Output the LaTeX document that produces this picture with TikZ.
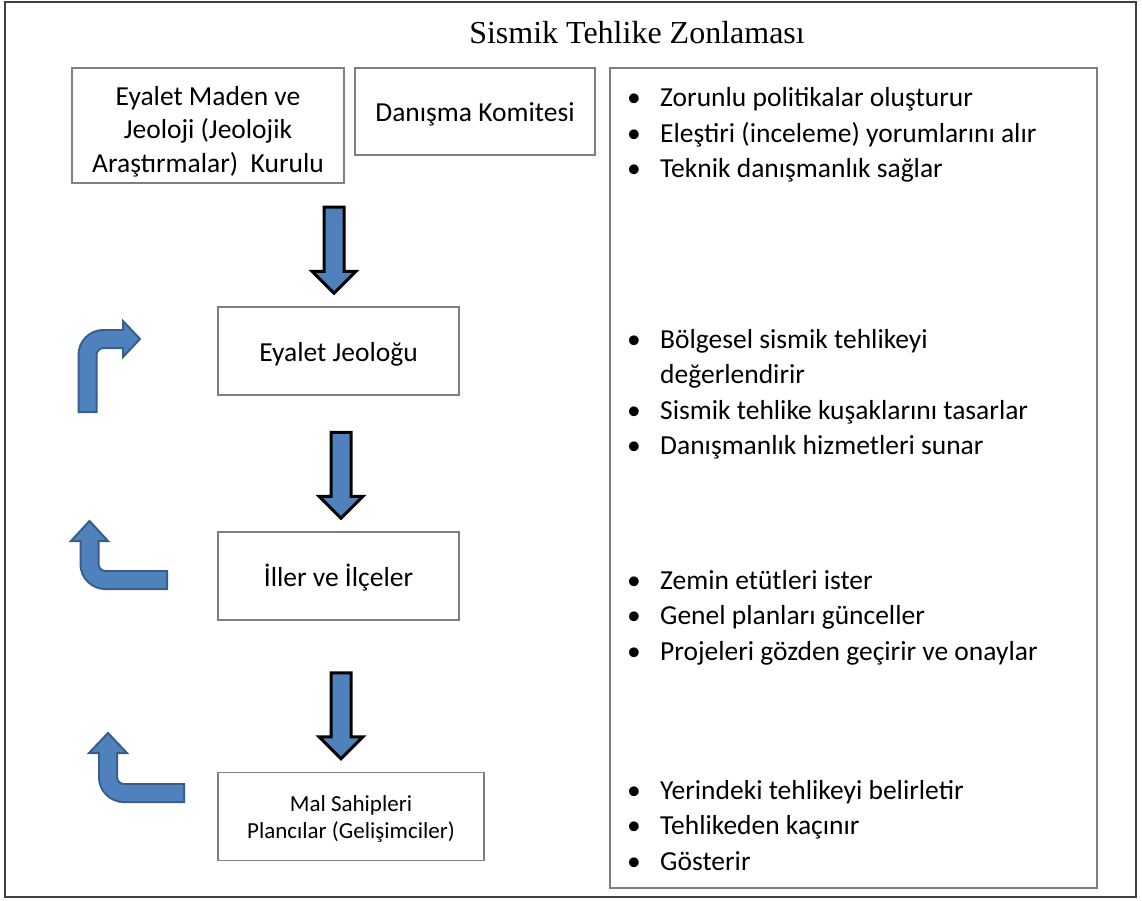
\documentclass[tikz,border=0pt]{standalone}
\usepackage{fontspec}
\setmainfont{Carlito}
\newfontfamily\titlefont{Liberation Serif}
\usepackage{xcolor}
\definecolor{arrowblue}{HTML}{4F81BD}
\definecolor{arrowedge}{HTML}{385D8A}
\definecolor{boxgray}{HTML}{7F7F7F}
\definecolor{framegray}{HTML}{404040}

\tikzset{
  box/.style={draw=boxgray, line width=1.5pt, inner sep=0pt, align=center,
    font=\fontsize{27.5}{33.5}\selectfont},
  bullets/.style={anchor=base west, inner sep=0pt, font=\fontsize{27.5}{35.5}\selectfont},
  downarrow/.style={draw=black, line width=3pt, fill=arrowblue, line join=miter},
  bentedge/.style={arrowedge, line width=20pt, rounded corners=16pt},
  bentfill/.style={arrowblue, line width=16pt, rounded corners=16pt},
  benthead/.style={draw=arrowedge, line width=2pt, fill=arrowblue}
}

\begin{document}
\begin{tikzpicture}[x=1pt,y=-1pt]
\useasboundingbox (0,0) rectangle (1142,901);
\draw[framegray, line width=2pt] (5,2) rectangle (1136,897);

\node[font=\titlefont\fontsize{32}{38}\selectfont] (title) at (637,33) {Sismik Tehlike Zonlaması};

% left column
\node[box, minimum width=272pt, minimum height=115pt] (kurul) at (208,125.5)
  {\rule{0pt}{31pt}Eyalet Maden ve\\Jeoloji (Jeolojik\\Araştırmalar)\ \ Kurulu};
\node[box, minimum width=240pt, minimum height=87pt] (komite) at (475,111.5) {\rule{0pt}{25pt}Danışma Komitesi};
\node[box, minimum width=241pt, minimum height=88pt] (jeo) at (338.5,351) {\rule{0pt}{25pt}Eyalet Jeoloğu};
\node[box, minimum width=241pt, minimum height=88pt] (iller) at (338.5,576) {\rule{0pt}{25pt}İller ve İlçeler};
\node[box, minimum width=266pt, minimum height=88pt, font=\fontsize{23}{27}\selectfont] (mal) at (351,816.5)
  {\rule{0pt}{20pt}Mal Sahipleri\\Plancılar (Gelişimciler)};

\foreach \n/\dx in {jeo/-4.5, iller/2.5, mal/-10}
  \draw[downarrow] ([xshift=\dx pt, yshift=13pt]\n.north) -- ++(-22,-22) -- ++(12,0) -- ++(0,-64)
    -- ++(20,0) -- ++(0,64) -- ++(12,0) -- cycle;

% bent arrows
\draw[bentedge] (87.5,413) -- (87.5,339) -- (124,339);
\draw[benthead] (123,321) -- (140,339) -- (123,357) -- cycle;
\draw[bentfill] (87.5,411) -- (87.5,339) -- (125,339);

\draw[bentedge] (168,580) -- (89.5,580) -- (89.5,539);
\draw[benthead] (71,541) -- (89.5,521) -- (108,541) -- cycle;
\draw[bentfill] (166,580) -- (89.5,580) -- (89.5,538);

\draw[bentedge] (185,793) -- (108,793) -- (108,751);
\draw[benthead] (89,753) -- (108,733) -- (127,753) -- cycle;
\draw[bentfill] (183,793) -- (108,793) -- (108,750);

% right panel
\node[box, minimum width=487pt, minimum height=820pt] (panel) at (853.5,478) {};

\node[bullets] (g1) at (627,107) {\begin{tabular}[t]{@{}p{33pt}@{}l@{}}
\textbullet & Zorunlu politikalar oluşturur\\
\textbullet & Eleştiri (inceleme) yorumlarını alır\\
\textbullet & Teknik danışmanlık sağlar
\end{tabular}};
\node[bullets] (g2) at (627,348) {\begin{tabular}[t]{@{}p{33pt}@{}l@{}}
\textbullet & Bölgesel sismik tehlikeyi\\
 & değerlendirir\\
\textbullet & Sismik tehlike kuşaklarını tasarlar\\
\textbullet & Danışmanlık hizmetleri sunar
\end{tabular}};
\node[bullets] (g3) at (627,589) {\begin{tabular}[t]{@{}p{33pt}@{}l@{}}
\textbullet & Zemin etütleri ister\\
\textbullet & Genel planları günceller\\
\textbullet & Projeleri gözden geçirir ve onaylar
\end{tabular}};
\node[bullets] (g4) at (627,799) {\begin{tabular}[t]{@{}p{33pt}@{}l@{}}
\textbullet & Yerindeki tehlikeyi belirletir\\
\textbullet & Tehlikeden kaçınır\\
\textbullet & Gösterir
\end{tabular}};
\end{tikzpicture}
\end{document}
